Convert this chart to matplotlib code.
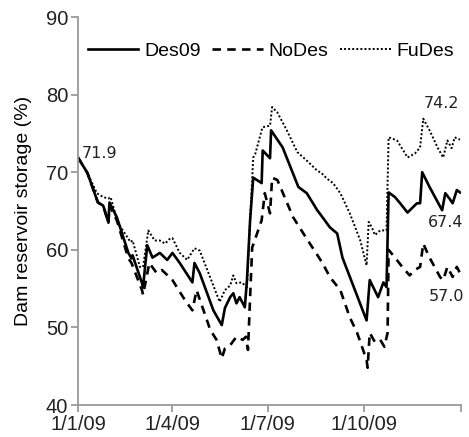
import numpy as np
import matplotlib
matplotlib.use("Agg")
import matplotlib.pyplot as plt

# day offsets from 1/1/09 and storage (%)
des09_day = [0, 9, 19, 24, 29, 30, 37, 48, 51, 52, 61, 62, 66, 71, 78, 85, 90, 97,
             109, 111, 116, 129, 137, 140, 145, 148, 151, 154, 159, 161, 164, 167,
             175, 176, 183, 184, 195, 210, 218, 228, 233, 240, 247, 252, 275, 278,
             286, 291, 294, 296, 302, 307, 314, 323, 326, 328, 335, 347, 350, 354,
             357, 361, 364]
des09_val = [71.9, 69.9, 66.1, 65.7, 63.5, 66.1, 64.2, 59.6, 58.9, 59.3, 55.7, 55.2,
             60.6, 59.0, 59.6, 58.7, 59.6, 58.3, 55.8, 58.3, 57.0, 52.2, 50.3, 52.5,
             53.9, 54.4, 53.1, 53.9, 52.6, 56.1, 63.8, 69.3, 68.6, 72.8, 71.8, 75.4,
             73.2, 68.1, 67.3, 65.1, 64.2, 62.9, 62.1, 59.0, 50.9, 56.1, 53.9, 55.8,
             55.2, 67.4, 66.8, 66.0, 64.8, 66.0, 66.0, 70.0, 68.1, 65.1, 67.3, 66.6,
             66.0, 67.7, 67.4]

nodes_day = [0, 9, 19, 24, 29, 30, 37, 48, 51, 61, 62, 68, 75, 80, 90, 102, 109, 113,
             126, 132, 137, 140, 145, 151, 157, 160, 162, 164, 166, 175, 178, 183,
             185, 190, 205, 211, 221, 233, 240, 250, 259, 266, 275, 276, 278, 283,
             288, 292, 295, 296, 302, 309, 316, 321, 326, 329, 335, 345, 348, 352,
             357, 361, 364]
nodes_val = [71.9, 69.9, 66.1, 65.7, 63.5, 65.7, 63.8, 58.9, 58.3, 54.8, 54.2, 58.3,
             57.0, 57.4, 56.1, 53.5, 52.2, 54.8, 49.7, 48.4, 46.0, 47.3, 47.7, 48.8,
             48.4, 48.8, 47.1, 53.9, 60.3, 63.8, 67.3, 64.7, 69.3, 69.0, 64.2, 62.9,
             60.8, 58.3, 56.5, 54.8, 51.3, 49.3, 45.8, 44.8, 49.3, 48.1, 48.4, 47.5,
             49.3, 60.0, 59.0, 57.8, 56.7, 57.4, 57.8, 60.8, 59.0, 56.5, 56.1, 57.8,
             56.5, 57.8, 57.0]

fudes_day = [0, 9, 18, 24, 29, 31, 38, 50, 52, 59, 62, 67, 73, 78, 83, 88, 90, 97,
             104, 111, 116, 135, 140, 145, 148, 151, 156, 161, 164, 167, 169, 175,
             176, 183, 185, 190, 199, 209, 218, 228, 232, 237, 243, 250, 259, 269,
             272, 275, 277, 280, 283, 288, 291, 294, 296, 304, 310, 314, 321, 326,
             329, 335, 343, 348, 352, 356, 359, 364]
fudes_val = [71.9, 69.9, 67.3, 66.8, 66.6, 66.8, 63.5, 61.0, 61.2, 57.8, 57.8, 62.5,
             61.2, 61.2, 60.8, 61.5, 61.5, 59.6, 58.7, 60.2, 59.9, 53.3, 54.8, 55.4,
             56.7, 55.7, 55.8, 55.2, 63.8, 71.9, 72.4, 75.4, 75.8, 76.0, 78.4, 77.7,
             75.4, 72.6, 71.5, 70.2, 69.9, 69.2, 68.6, 67.3, 64.7, 61.2, 59.6, 58.0,
             63.6, 62.9, 61.9, 62.5, 62.5, 62.5, 74.5, 74.1, 72.8, 71.9, 72.4, 73.2,
             76.9, 75.4, 73.1, 71.9, 74.1, 73.1, 74.5, 74.2]

tick_dates = ["2009-01-01", "2009-04-01", "2009-07-01", "2009-10-01", "2010-01-01"]
tick_labels = ["1/1/09", "1/4/09", "1/7/09", "1/10/09", ""]
y_ticks = [40, 50, 60, 70, 80, 90]

start = np.datetime64("2009-01-01")


def to_dates(days):
    return start + np.array(days, dtype="timedelta64[D]")


plt.rcParams["font.family"] = ["Liberation Sans", "DejaVu Sans"]
AXIS_GREY = "#9a9a9a"

fig = plt.figure(figsize=(4.69, 4.37), dpi=100)
ax = fig.add_axes([0.1663, 0.0732, 0.8167, 0.8878])

ax.plot(to_dates(des09_day), des09_val, color="black", lw=1.9, ls="-", label="Des09")
ax.plot(to_dates(nodes_day), nodes_val, color="black", lw=1.9, ls=(0, (3.2, 2.4)), label="NoDes")
ax.plot(to_dates(fudes_day), fudes_val, color="black", lw=1.4, ls=(0, (1, 1.1)), label="FuDes")

ax.set_xlim(np.datetime64("2009-01-01"), np.datetime64("2010-01-01"))
ax.set_ylim(40, 90)
ax.set_yticks(y_ticks)
ax.set_xticks(np.array(tick_dates, dtype="datetime64[D]"))
ax.set_xticklabels(tick_labels)
ax.set_ylabel("Dam reservoir storage (%)", fontsize=14, labelpad=10)

for side in ("top", "right"):
    ax.spines[side].set_visible(False)
for side in ("left", "bottom"):
    ax.spines[side].set_color(AXIS_GREY)
    ax.spines[side].set_linewidth(1.3)
ax.tick_params(which="major", direction="out", length=5, width=1.3, color=AXIS_GREY,
               labelsize=14.5, labelcolor="#222222", pad=2)

# end-point value labels
lbl = dict(fontsize=11.5, family="DejaVu Sans", color="#222222")
ax.annotate("71.9", (to_dates([des09_day[0]])[0], des09_val[0]), xytext=(3, 3),
            textcoords="offset points", ha="left", va="center", **lbl)
ax.annotate("74.2", (to_dates([fudes_day[-1]])[0], fudes_val[-1]), xytext=(-13, 26),
            textcoords="offset points", ha="center", va="center", **lbl)
ax.annotate("67.4", (to_dates([des09_day[-1]])[0], des09_val[-1]), xytext=(-10, -22),
            textcoords="offset points", ha="center", va="center", **lbl)
ax.annotate("57.0", (to_dates([nodes_day[-1]])[0], nodes_val[-1]), xytext=(-10, -17),
            textcoords="offset points", ha="center", va="center", **lbl)

ax.legend(loc="upper left", bbox_to_anchor=(0.005, 0.955), ncol=3, frameon=False,
          fontsize=14, handlelength=2.6, handletextpad=0.3, columnspacing=0.6,
          borderaxespad=0.0)

fig.savefig("out.png", dpi=100)
